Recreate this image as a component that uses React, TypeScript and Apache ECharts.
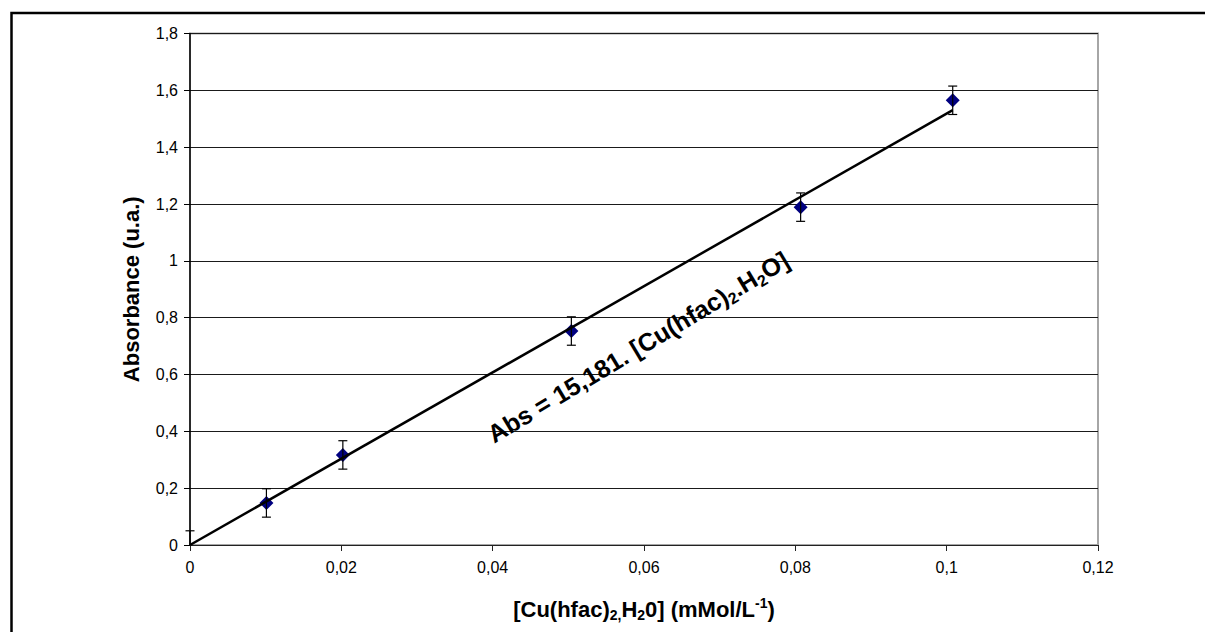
import React, { useEffect, useRef } from "react";
import * as echarts from "echarts";

// Data
const concentrations = [0, 0.0101, 0.0202, 0.0504, 0.0807, 0.1008];
const absorbance = [0, 0.148, 0.317, 0.753, 1.189, 1.565];
const errors = [0.05, 0.05, 0.05, 0.05, 0.05, 0.05];
const markerVisible = [false, true, true, true, true, true];
const slope = 15.181;
const xAxisRange = { min: 0, max: 0.12, interval: 0.02 };
const yAxisRange = { min: 0, max: 1.8, interval: 0.2 };

const FONT = "'Liberation Sans', Arial, sans-serif";
const fmt = (v: number) => String(+v.toFixed(3)).replace(".", ",");

export default function App() {
  const ref = useRef<HTMLDivElement>(null);
  useEffect(() => {
    if (!ref.current) return;
    const chart = echarts.init(ref.current, null, { renderer: "svg" });
    const xMax = Math.max(...concentrations);
    const option: any = {
      animation: false,
      backgroundColor: "#fff",
      grid: {
        left: 190,
        top: 33.5,
        right: 107,
        bottom: 87,
        show: true,
        borderColor: "#a6a6a6",
        borderWidth: 2,
        backgroundColor: "transparent",
      },
      xAxis: {
        type: "value",
        min: xAxisRange.min,
        max: xAxisRange.max,
        interval: xAxisRange.interval,
        name: "[Cu(hfac){s|2,}H{s|2}0] (mMol/L{p|-1})",
        nameLocation: "middle",
        nameGap: 51,
        nameTextStyle: {
          fontFamily: FONT,
          fontSize: 22,
          fontWeight: "bold",
          color: "#000",
          lineHeight: 26,
          rich: {
            s: { fontFamily: FONT, fontSize: 14, fontWeight: "bold", color: "#000", lineHeight: 13, verticalAlign: "bottom" },
            p: { fontFamily: FONT, fontSize: 14, fontWeight: "bold", color: "#000", lineHeight: 13, verticalAlign: "top" },
          },
        },
        axisLine: { show: true, onZero: false, lineStyle: { color: "#222", width: 1 } },
        axisTick: { show: true, length: 6, inside: false, lineStyle: { color: "#222" } },
        axisLabel: { fontFamily: FONT, fontSize: 16, color: "#000", margin: 14, formatter: fmt },
        splitLine: { show: false },
      },
      yAxis: {
        type: "value",
        min: yAxisRange.min,
        max: yAxisRange.max,
        interval: yAxisRange.interval,
        name: "Absorbance (u.a.)",
        nameLocation: "middle",
        nameGap: 48,
        nameTextStyle: { fontFamily: FONT, fontSize: 22, fontWeight: "bold", color: "#000" },
        axisLine: { show: true, lineStyle: { color: "#000", width: 1.5 } },
        axisTick: { show: true, length: 6, lineStyle: { color: "#000" } },
        axisLabel: { fontFamily: FONT, fontSize: 16, color: "#000", margin: 12, formatter: fmt },
        splitLine: { show: true, lineStyle: { color: "#1a1a1a", width: 1 } },
      },
      series: [
        {
          type: "scatter",
          symbol: "diamond",
          symbolSize: 14,
          itemStyle: { color: "#000080", opacity: 1 },
          data: concentrations.map((x, i) => ({
            value: [x, absorbance[i]],
            symbolSize: markerVisible[i] ? 14 : 0,
          })),
          z: 3,
        },
        {
          type: "custom",
          data: concentrations.map((x, i) => [x, absorbance[i], errors[i]]),
          renderItem: (params: any, api: any) => {
            const x = api.value(0);
            const y = api.value(1);
            const e = api.value(2);
            const lowVal = Math.max(y - e, yAxisRange.min);
            const top = api.coord([x, y + e]);
            const bot = api.coord([x, lowVal]);
            const hw = 4.5;
            const st = { stroke: "#000", lineWidth: 1.2 };
            const children: any[] = [
              { type: "line", shape: { x1: top[0], y1: top[1], x2: bot[0], y2: bot[1] }, style: st },
              { type: "line", shape: { x1: top[0] - hw, y1: top[1], x2: top[0] + hw, y2: top[1] }, style: st },
            ];
            if (y - e >= yAxisRange.min) {
              children.push({ type: "line", shape: { x1: bot[0] - hw, y1: bot[1], x2: bot[0] + hw, y2: bot[1] }, style: st });
            }
            return { type: "group", children };
          },
          z: 4,
        },
        {
          type: "line",
          symbol: "none",
          lineStyle: { color: "#000", width: 2.5 },
          data: [
            [0, 0],
            [xMax, slope * xMax],
          ],
          z: 5,
        },
      ],
      graphic: [
        {
          type: "rect",
          shape: { x: 11.5, y: 13, width: 1400, height: 800 },
          style: { fill: "none", stroke: "#000", lineWidth: 2.5 },
          silent: true,
          z: 100,
        },
        {
          type: "text",
          x: 638,
          y: 347,
          rotation: (31 * Math.PI) / 180,
          style: {
            text: "{a|Abs = 15,181. [Cu(hfac)}{s|2}{a|.H}{s|2}{a|O]}",
            align: "center",
            verticalAlign: "middle",
            rich: {
              a: { fontFamily: FONT, fontSize: 25, fontWeight: "bold", fill: "#000", lineHeight: 30 },
              s: { fontFamily: FONT, fontSize: 16, fontWeight: "bold", fill: "#000", lineHeight: 15, verticalAlign: "bottom" },
            },
          },
          z: 100,
        },
      ],
    };
    chart.setOption(option);
    return () => chart.dispose();
  }, []);
  return (
    <div
      ref={ref}
      style={{ position: "fixed", left: 0, top: 0, width: 1205, height: 632 }}
    />
  );
}
